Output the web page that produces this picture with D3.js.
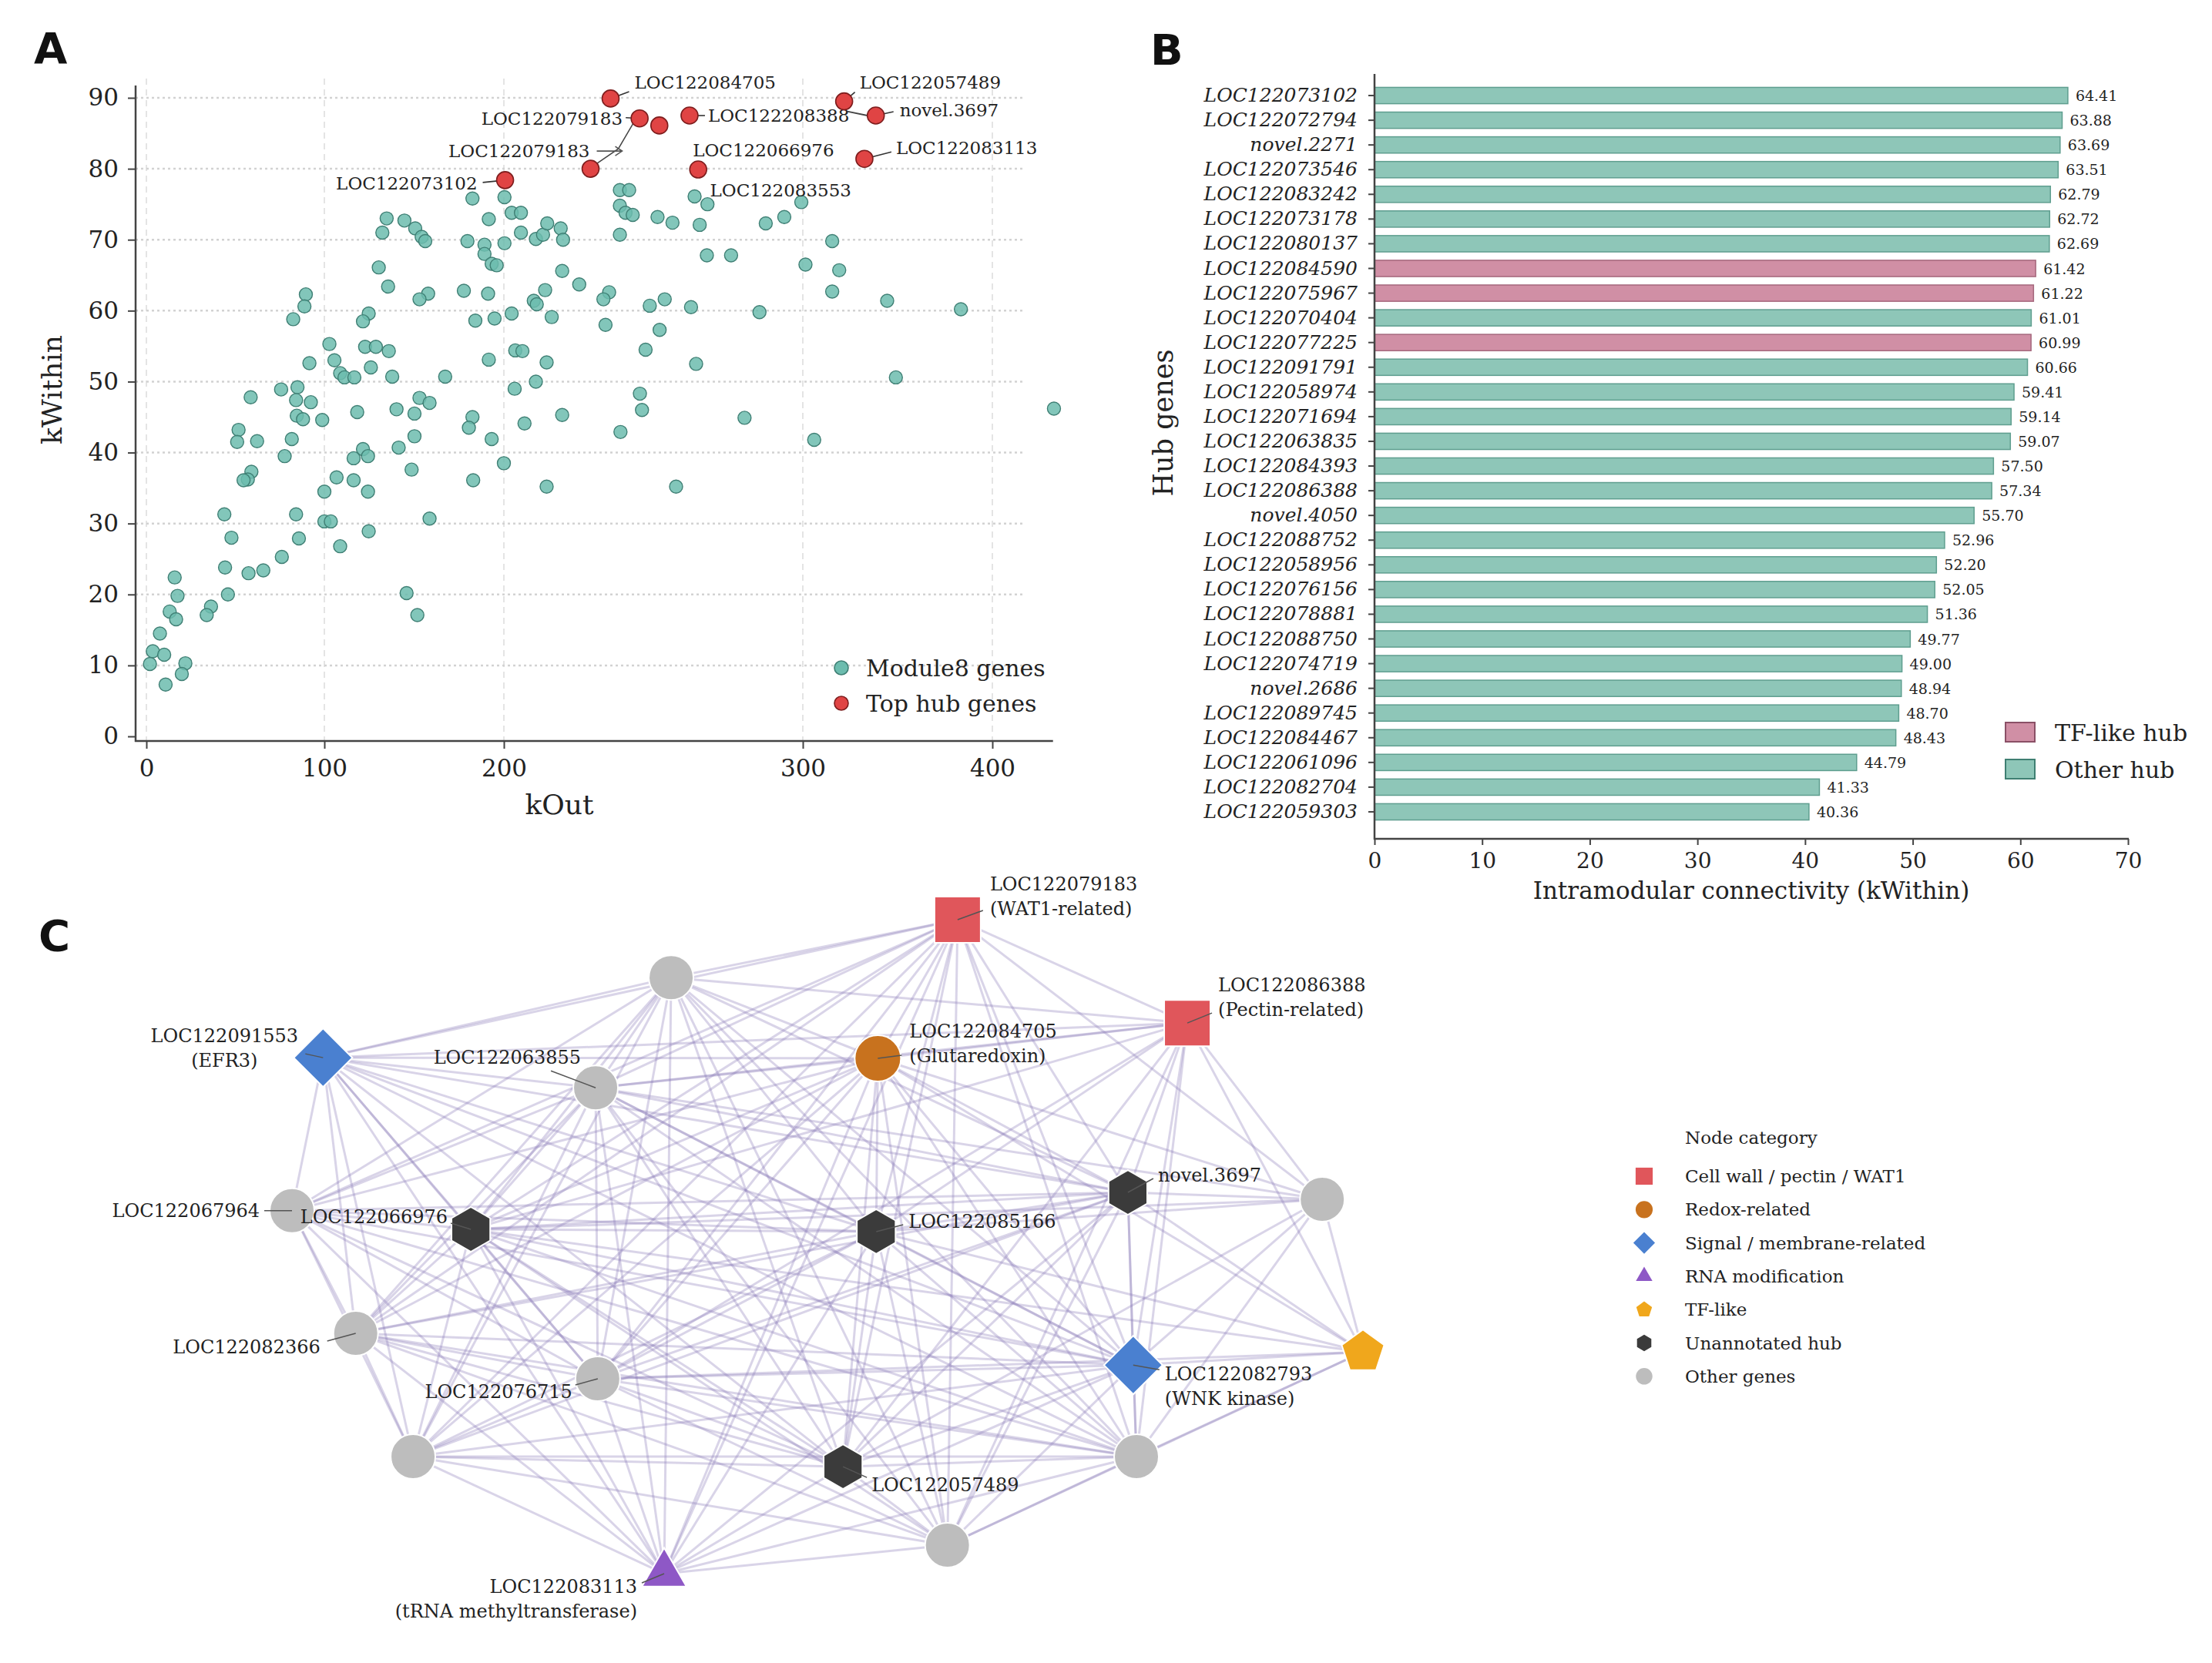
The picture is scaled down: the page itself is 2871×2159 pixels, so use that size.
<!DOCTYPE html>
<html>
<head>
<meta charset="utf-8">
<script src="https://cdn.jsdelivr.net/npm/d3@7"></script>
<style>
  body { margin: 0; background: #fff; }
  text { font-family: "DejaVu Serif", serif; fill: #222; }
</style>
</head>
<body>
<script>
// ---------- panel A data: kOut vs kWithin ----------
var module8 = [
  [182.5,75.8],[200.2,76.0],[238.8,77.0],[241.9,77.0],[263.8,76.1],[268.1,75.0],[299.5,75.3],[238.8,74.8],
  [240.7,73.8],[243.1,73.5],[191.6,72.9],[202.6,73.8],[205.7,73.8],[134.7,73.0],[144.6,72.7],[150.6,71.6],
  [132.3,71.0],[154.2,70.4],[156.2,69.8],[179.7,69.8],[189.2,69.3],[200.2,69.5],[205.7,71.0],[210.7,70.1],
  [213.1,70.7],[214.5,72.3],[219.0,71.6],[219.8,70.0],[238.8,70.7],[251.4,73.2],[256.4,72.4],[265.5,72.1],
  [287.6,72.3],[293.8,73.2],[315.5,69.8],[267.9,67.8],[276.0,67.8],[189.2,68.0],[193.2,66.6],[196.0,66.4],
  [130.3,66.1],[219.5,65.6],[301.4,66.5],[319.2,65.7],[135.5,63.4],[225.2,63.7],[177.7,62.8],[191.2,62.4],
  [157.8,62.4],[153.0,61.6],[213.8,62.9],[235.2,62.6],[233.3,61.6],[210.0,61.4],[211.0,60.9],[253.8,61.6],
  [248.8,60.7],[262.6,60.5],[285.5,59.8],[315.5,62.7],[344.5,61.4],[383.4,60.2],[89.6,62.3],[88.8,60.6],
  [82.5,58.8],[124.7,59.6],[121.5,58.5],[184.1,58.6],[194.8,58.9],[202.6,59.6],[216.0,59.1],[234.0,58.0],
  [252.1,57.3],[102.8,55.3],[105.6,53.0],[91.6,52.6],[122.7,54.9],[128.7,54.9],[135.9,54.3],[125.9,52.0],
  [108.8,51.2],[111.2,50.6],[116.7,50.6],[137.8,50.7],[167.3,50.7],[191.6,53.1],[203.8,54.4],[206.2,54.3],
  [214.3,52.7],[247.4,54.5],[264.3,52.5],[349.1,50.6],[210.7,50.0],
  [58.6,47.8],[75.7,48.9],[84.9,49.2],[203.6,49.0],[84.1,47.4],[92.4,47.1],[84.5,45.2],[88.0,44.7],
  [98.8,44.6],[118.3,45.7],[140.2,46.1],[150.2,45.5],[153.0,47.7],[158.6,47.0],[182.5,45.0],[180.5,43.5],
  [206.9,44.1],[219.5,45.3],[245.5,48.3],[246.2,46.0],[280.5,44.9],[432.5,46.2],[51.8,43.2],[51.0,41.5],
  [62.2,41.6],[239.0,42.9],[150.2,42.3],[81.7,41.9],[77.7,39.5],[141.4,40.7],[121.5,40.5],[124.3,39.5],
  [116.3,39.2],[193.2,41.9],[200.0,38.5],[59.0,37.3],[57.0,36.2],[54.6,36.1],[106.8,36.5],[116.3,36.1],
  [100.0,34.5],[124.3,34.5],[148.6,37.6],[182.9,36.1],[214.3,35.2],[257.6,35.2],[43.8,31.3],[47.8,28.0],
  [84.1,31.3],[100.0,30.3],[103.6,30.3],[85.7,27.9],[108.8,26.8],[124.7,28.9],[158.6,30.7],[76.1,25.3],
  [44.2,23.8],[57.4,23.0],[65.7,23.4],[45.8,20.0],[15.9,22.4],[17.5,19.8],[13.1,17.6],[16.7,16.5],
  [36.3,18.3],[33.9,17.1],[145.8,20.2],[151.8,17.1],[7.6,14.5],[3.6,12.0],[10.0,11.5],[2.0,10.2],
  [21.9,10.3],[19.9,8.8],[10.8,7.3],[306.0,41.8]
];
var hubNames   = ["LOC122084705","LOC122079183","","LOC122208388","LOC122057489","novel.3697","LOC122083113","LOC122079183","LOC122066976","LOC122073102"];
var hubKOut    = [235.7, 245.4, 252.0, 262.1, 321.8, 338.5, 332.5, 229.0, 265.0, 200.4];
var hubKWithin = [89.9, 87.1, 86.1, 87.5, 89.5, 87.5, 81.4, 80.0, 79.9, 78.4];
var extraLabel = { name: "LOC122083553", kOut: 263.8, kWithin: 76.1 };
var kOutTicks = [0, 100, 200, 300, 400];
var kWithinTicks = [0, 10, 20, 30, 40, 50, 60, 70, 80, 90];

// ---------- panel B data: hub genes by kWithin ----------
var hubGenes = ["LOC122073102","LOC122072794","novel.2271","LOC122073546","LOC122083242","LOC122073178",
  "LOC122080137","LOC122084590","LOC122075967","LOC122070404","LOC122077225","LOC122091791","LOC122058974",
  "LOC122071694","LOC122063835","LOC122084393","LOC122086388","novel.4050","LOC122088752","LOC122058956",
  "LOC122076156","LOC122078881","LOC122088750","LOC122074719","novel.2686","LOC122089745","LOC122084467",
  "LOC122061096","LOC122082704","LOC122059303"];
var hubKW = [64.41,63.88,63.69,63.51,62.79,62.72,62.69,61.42,61.22,61.01,60.99,60.66,59.41,59.14,59.07,
  57.50,57.34,55.70,52.96,52.20,52.05,51.36,49.77,49.00,48.94,48.70,48.43,44.79,41.33,40.36];
var tfLike = ["LOC122084590","LOC122075967","LOC122077225"];
var kwTicks = [0, 10, 20, 30, 40, 50, 60, 70];

// ---------- panel C data: network ----------
var nodeIds = ["LOC122079183","","LOC122086388","LOC122084705","LOC122091553","LOC122063855","LOC122067964",
  "LOC122066976","LOC122085166","novel.3697","","LOC122082366","LOC122076715","LOC122082793","","","LOC122057489",
  "","","LOC122083113"];
var nodeNotes = ["(WAT1-related)","","(Pectin-related)","(Glutaredoxin)","(EFR3)","","","","","","","","",
  "(WNK kinase)","","","","","","(tRNA methyltransferase)"];
var nodeCat = ["wall","other","wall","redox","signal","other","other","hub","hub","hub","other","other","other",
  "signal","tf","other","hub","other","other","rna"];
var nodeX = [0.243,-0.292,0.672,0.094,-0.942,-0.433,-1.000,-0.666,0.091,0.561,0.924,-0.881,-0.429,0.571,1.000,
  -0.774,0.029,0.577,0.224,-0.305];
var nodeY = [1.000,0.823,0.684,0.576,0.578,0.486,0.110,0.053,0.046,0.166,0.145,-0.265,-0.404,-0.362,-0.322,
  -0.642,-0.673,-0.642,-0.913,-1.000];
var edgeRows = [
  "0:1 2 3 4 5 6 7 8 9 10 11 12 13 15 16 17 18 19",
  "1:2 3 4 5 6 7 8 9 11 12 13 15 16 17 18 19",
  "2:3 4 5 7 8 9 10 12 13 14 16 17 18",
  "3:4 5 6 7 8 9 10 11 12 13 14 15 16 17 18 19",
  "4:5 6 7 8 9 11 12 13 15 16 17 19",
  "5:6 7 8 9 10 11 12 13 15 16 17 18 19",
  "6:7 8 9 11 12 13 15 16 17 19",
  "7:8 9 10 11 12 13 14 15 16 17 18 19",
  "8:9 10 11 12 13 14 15 16 17 18 19",
  "9:10 11 12 13 14 15 16 17 18 19",
  "10:13 14 16 17",
  "11:12 13 15 16 17 18 19",
  "12:13 14 15 16 17 18 19",
  "13:14 15 16 17 18 19",
  "14:17 18",
  "15:16 17 18 19",
  "16:17 18 19",
  "17:18 19",
  "18:19"
];
var categories = ["wall","redox","signal","rna","tf","hub","other"];
var categoryLabels = ["Cell wall / pectin / WAT1","Redox-related","Signal / membrane-related","RNA modification",
  "TF-like","Unannotated hub","Other genes"];

// ---------- drawing ----------
var svg = d3.select("body").append("svg")
  .attr("width", 2871)
  .attr("height", 2159);

function panelLetter(t, x, y) {
  svg.append("text").attr("x", x).attr("y", y).text(t)
    .style("font-family", "DejaVu Sans, sans-serif")
    .attr("font-weight", "bold").attr("font-size", 56).style("fill", "#111");
}
panelLetter("A", 44, 82);
panelLetter("B", 1493, 84);
panelLetter("C", 50, 1234);

// ===== Panel A =====
var xA = d3.scaleLinear().domain(kOutTicks).range([190, 421, 654, 1042, 1288]);
var yA = d3.scaleLinear().domain([0, 90]).range([956, 127]);
var gA = svg.append("g");

gA.selectAll(".vgrid").data(kOutTicks).enter().append("line")
  .attr("x1", function(d) { return xA(d); }).attr("x2", function(d) { return xA(d); })
  .attr("y1", 102).attr("y2", 962)
  .attr("stroke", "#dcdcdc").attr("stroke-width", 1.5).attr("stroke-dasharray", "8,6");
gA.selectAll(".hgrid").data(kWithinTicks.slice(1)).enter().append("line")
  .attr("x1", 176).attr("x2", 1328)
  .attr("y1", function(d) { return yA(d); }).attr("y2", function(d) { return yA(d); })
  .attr("stroke", "#d2d2d2").attr("stroke-width", 2.5).attr("stroke-dasharray", "3,4");

var axA_y = gA.append("g").attr("transform", "translate(176,0)")
  .call(d3.axisLeft(yA).tickValues(kWithinTicks).tickSize(10).tickPadding(12).tickSizeOuter(0));
var axA_x = gA.append("g").attr("transform", "translate(0,962)")
  .call(d3.axisBottom(xA).tickValues(kOutTicks).tickSize(10).tickPadding(14).tickSizeOuter(0));
[axA_y, axA_x].forEach(function(ax) {
  ax.select(".domain").remove();
  ax.selectAll("line").attr("stroke", "#444").attr("stroke-width", 2);
  ax.selectAll("text").attr("font-size", 31).style("font-family", "DejaVu Serif, serif").style("fill", "#222");
});
gA.append("line").attr("x1", 176).attr("x2", 176).attr("y1", 111).attr("y2", 963)
  .attr("stroke", "#444").attr("stroke-width", 2.5);
gA.append("line").attr("x1", 175).attr("x2", xA(432)).attr("y1", 962).attr("y2", 962)
  .attr("stroke", "#444").attr("stroke-width", 2.5);

gA.append("text").attr("x", 726).attr("y", 1057).attr("text-anchor", "middle")
  .attr("font-size", 36).text("kOut");
gA.append("text").attr("transform", "translate(80,506) rotate(-90)").attr("text-anchor", "middle")
  .attr("font-size", 36).text("kWithin");

gA.selectAll(".m8").data(module8).enter().append("circle")
  .attr("cx", function(d) { return xA(d[0]); })
  .attr("cy", function(d) { return yA(d[1]); })
  .attr("r", 8.5)
  .attr("fill", "#6cbcae").attr("fill-opacity", 0.85)
  .attr("stroke", "#3f7f74").attr("stroke-width", 1.4);

var hubs = hubNames.map(function(n, i) { return { name: n, kOut: hubKOut[i], kWithin: hubKWithin[i] }; });

// annotation placement (pixel offsets from each point)
var hubLabelPos = [
  { dx: 31, dy: -21, anchor: "start", lead: [24, -9] },
  { dx: -22, dy: 0, anchor: "end", lead: [-18, -1] },
  null,
  { dx: 24, dy: 0, anchor: "start", lead: [20, 0] },
  { dx: 20, dy: -25, anchor: "start", lead: [14, -12] },
  { dx: 31, dy: -7, anchor: "start", lead: [23, -5] },
  { dx: 41, dy: -14, anchor: "start", lead: [35, -9] },
  { dx: -1, dy: -23, anchor: "end", arrow: true },
  { dx: -7, dy: -25, anchor: "start" },
  { dx: -36, dy: 4, anchor: "end", lead: [-29, 3] }
];

// odd connector lines visible in the reference
var p8 = hubs[7], p2 = hubs[1], p5 = hubs[4], p6 = hubs[5];
gA.append("path")
  .attr("d", d3.line()([[xA(p8.kOut) + 4, yA(p8.kWithin) - 4],
                         [xA(p8.kOut) + 36, yA(p8.kWithin) - 26],
                         [xA(p2.kOut) - 8, yA(p2.kWithin) + 6]]))
  .attr("fill", "none").attr("stroke", "#444").attr("stroke-width", 1.5);
gA.append("line")
  .attr("x1", xA(p5.kOut) + 4).attr("y1", yA(p5.kWithin) + 13)
  .attr("x2", xA(p6.kOut) - 6).attr("y2", yA(p6.kWithin) + 1)
  .attr("stroke", "#444").attr("stroke-width", 2);

hubs.forEach(function(h, i) {
  var pos = hubLabelPos[i];
  if (!pos) return;
  var px = xA(h.kOut), py = yA(h.kWithin);
  if (pos.lead) {
    gA.append("line").attr("x1", px).attr("y1", py)
      .attr("x2", px + pos.lead[0]).attr("y2", py + pos.lead[1])
      .attr("stroke", "#333").attr("stroke-width", 1.6);
  }
  if (pos.arrow) {
    var ax = px + pos.dx + 9, ay = py + pos.dy;
    gA.append("path")
      .attr("d", "M" + ax + "," + ay + "H" + (ax + 32) + "M" + (ax + 24) + "," + (ay - 6) +
                 "L" + (ax + 33) + "," + ay + "L" + (ax + 24) + "," + (ay + 6))
      .attr("fill", "none").attr("stroke", "#555").attr("stroke-width", 1.6);
  }
  gA.append("text").attr("x", px + pos.dx).attr("y", py + pos.dy)
    .attr("text-anchor", pos.anchor).attr("dominant-baseline", "central")
    .attr("font-size", 23).text(h.name);
});

gA.selectAll(".hub").data(hubs).enter().append("circle")
  .attr("cx", function(d) { return xA(d.kOut); })
  .attr("cy", function(d) { return yA(d.kWithin); })
  .attr("r", 11)
  .attr("fill", "#e04444")
  .attr("stroke", "#7d1d1d").attr("stroke-width", 1.6);

gA.append("text").attr("x", xA(extraLabel.kOut) + 20).attr("y", yA(extraLabel.kWithin) - 8)
  .attr("dominant-baseline", "central").attr("font-size", 23).text(extraLabel.name);

// legend A
var legA = [["Module8 genes", "#6cbcae", "#3f7f74"], ["Top hub genes", "#e04444", "#7d1d1d"]];
legA.forEach(function(l, i) {
  gA.append("circle").attr("cx", 1092).attr("cy", 867 + i * 46).attr("r", 9)
    .attr("fill", l[1]).attr("stroke", l[2]).attr("stroke-width", 1.6);
  gA.append("text").attr("x", 1124).attr("y", 867 + i * 46).attr("dominant-baseline", "central")
    .attr("font-size", 30).text(l[0]);
});

// ===== Panel B =====
var xB = d3.scaleLinear().domain([0, 70]).range([1784, 2762]);
var yB = d3.scaleBand().domain(hubGenes).range([108, 1070]).paddingInner(0.34).paddingOuter(0.17);
var gB = svg.append("g");
var barData = hubGenes.map(function(g, i) { return { gene: g, kw: hubKW[i], tf: tfLike.indexOf(g) >= 0 }; });

gB.selectAll(".bar").data(barData).enter().append("rect")
  .attr("x", xB(0))
  .attr("y", function(d) { return yB(d.gene); })
  .attr("width", function(d) { return xB(d.kw) - xB(0); })
  .attr("height", yB.bandwidth())
  .attr("fill", function(d) { return d.tf ? "#d08fa5" : "#8ec6b8"; })
  .attr("stroke", function(d) { return d.tf ? "#a5687d" : "#5f9e8f"; })
  .attr("stroke-width", 1.5);

gB.selectAll(".val").data(barData).enter().append("text")
  .attr("x", function(d) { return xB(d.kw) + 10; })
  .attr("y", function(d) { return yB(d.gene) + yB.bandwidth() / 2; })
  .attr("dominant-baseline", "central")
  .attr("font-size", 19)
  .text(function(d) { return d.kw.toFixed(2); });

var axB_y = gB.append("g").attr("transform", "translate(1784,0)")
  .call(d3.axisLeft(yB).tickSize(8).tickPadding(14).tickSizeOuter(0));
var axB_x = gB.append("g").attr("transform", "translate(0,1089)")
  .call(d3.axisBottom(xB).tickValues(kwTicks).tickSize(8).tickPadding(10).tickSizeOuter(0));
[axB_y, axB_x].forEach(function(ax) {
  ax.select(".domain").remove();
  ax.selectAll("line").attr("stroke", "#444").attr("stroke-width", 2);
  ax.selectAll("text").style("font-family", "DejaVu Serif, serif").style("fill", "#222");
});
axB_y.selectAll("text").attr("font-size", 25).attr("font-style", "italic");
axB_x.selectAll("text").attr("font-size", 28);
gB.append("line").attr("x1", 1784).attr("x2", 1784).attr("y1", 96).attr("y2", 1090)
  .attr("stroke", "#444").attr("stroke-width", 2.5);
gB.append("line").attr("x1", 1783).attr("x2", 2763).attr("y1", 1089).attr("y2", 1089)
  .attr("stroke", "#444").attr("stroke-width", 2.5);

gB.append("text").attr("x", 2273).attr("y", 1167).attr("text-anchor", "middle")
  .attr("font-size", 31).text("Intramodular connectivity (kWithin)");
gB.append("text").attr("transform", "translate(1522,549) rotate(-90)").attr("text-anchor", "middle")
  .attr("font-size", 35).text("Hub genes");

var legB = [["TF-like hub", "#d08fa5", "#8a5066"], ["Other hub", "#8ec6b8", "#3f7f72"]];
legB.forEach(function(l, i) {
  gB.append("rect").attr("x", 2603).attr("y", 938 + i * 48).attr("width", 38).attr("height", 25)
    .attr("fill", l[1]).attr("stroke", l[2]).attr("stroke-width", 2);
  gB.append("text").attr("x", 2667).attr("y", 951 + i * 48).attr("dominant-baseline", "central")
    .attr("font-size", 30).text(l[0]);
});

// ===== Panel C =====
var xC = d3.scaleLinear().domain([-1, 1]).range([379, 1769]);
var yC = d3.scaleLinear().domain([1, -1]).range([1194, 2043]);
var gC = svg.append("g");

var nodes = nodeIds.map(function(id, i) {
  return { id: id, note: nodeNotes[i], cat: nodeCat[i], x: xC(nodeX[i]), y: yC(nodeY[i]) };
});
var edges = [];
edgeRows.forEach(function(row) {
  var parts = row.split(":");
  var s = +parts[0];
  parts[1].split(" ").forEach(function(t) { edges.push([s, +t]); });
});

var catColor = { wall: "#e0565b", redox: "#c8721e", signal: "#4a80d0", rna: "#8e58c6",
                 tf: "#f0a71c", hub: "#3b3b3b", other: "#bdbdbd" };

function polygon(n, r) {
  var p = d3.path();
  for (var k = 0; k < n; k++) {
    var a = -Math.PI / 2 + k * 2 * Math.PI / n;
    if (k === 0) p.moveTo(r * Math.cos(a), r * Math.sin(a));
    else p.lineTo(r * Math.cos(a), r * Math.sin(a));
  }
  p.closePath();
  return p.toString();
}
function shapePath(cat, s) {
  if (cat === "wall") return d3.symbol(d3.symbolSquare, 3600 * s * s)();
  if (cat === "signal") return d3.symbol(d3.symbolSquare, 2900 * s * s)();
  if (cat === "rna") return d3.symbol(d3.symbolTriangle, 1450 * s * s)();
  if (cat === "tf") return polygon(5, 29 * s);
  if (cat === "hub") return polygon(6, 29 * s);
  if (cat === "redox") return d3.symbol(d3.symbolCircle, 2830 * s * s)();
  return d3.symbol(d3.symbolCircle, 2640 * s * s)();
}

gC.selectAll(".edge").data(edges).enter().append("line")
  .attr("x1", function(d) { return nodes[d[0]].x; })
  .attr("y1", function(d) { return nodes[d[0]].y; })
  .attr("x2", function(d) { return nodes[d[1]].x; })
  .attr("y2", function(d) { return nodes[d[1]].y; })
  .attr("stroke", "#8a78b8").attr("stroke-opacity", 0.32).attr("stroke-width", 3);

gC.selectAll(".node").data(nodes).enter().append("path")
  .attr("d", function(d) { return shapePath(d.cat, 1); })
  .attr("transform", function(d) {
    return "translate(" + d.x + "," + d.y + ")" + (d.cat === "signal" ? " rotate(45)" : "");
  })
  .attr("fill", function(d) { return catColor[d.cat]; })
  .attr("stroke", "#fff").attr("stroke-width", 2);

// label placement (pixel offsets from node centre)
var labelC = {
  0:  { dx: 42, dy: -46, anchor: "start", lead: [33, -12] },
  2:  { dx: 40, dy: -49, anchor: "start", lead: [32, -13] },
  3:  { dx: 41, dy: -35, anchor: "start", lead: [31, -4] },
  4:  { dx: -128, dy: -28, anchor: "middle", lead: [-23, -5] },
  5:  { dx: -19, dy: -39, anchor: "end", lead: [-58, -22] },
  6:  { dx: -42, dy: 0, anchor: "end", lead: [-36, 0] },
  7:  { dx: -30, dy: -16, anchor: "end", lead: [-26, -8] },
  8:  { dx: 42, dy: -13, anchor: "start", lead: [35, -9] },
  9:  { dx: 39, dy: -22, anchor: "start", lead: [33, -18] },
  11: { dx: -46, dy: 18, anchor: "end", lead: [-37, 10] },
  12: { dx: -33, dy: 17, anchor: "end", lead: [-29, 8] },
  13: { dx: 41, dy: 12, anchor: "start", lead: [34, 6] },
  16: { dx: 37, dy: 24, anchor: "start", lead: [31, 14] },
  19: { dx: -35, dy: 17, anchor: "end", lead: [-29, 12] }
};
nodes.forEach(function(n, i) {
  var pos = labelC[i];
  if (!pos) return;
  gC.append("line").attr("x1", n.x).attr("y1", n.y)
    .attr("x2", n.x + pos.lead[0]).attr("y2", n.y + pos.lead[1])
    .attr("stroke", "#555").attr("stroke-width", 1.5);
  gC.append("text").attr("x", n.x + pos.dx).attr("y", n.y + pos.dy)
    .attr("text-anchor", pos.anchor).attr("dominant-baseline", "central")
    .attr("font-size", 24).text(n.id);
  if (n.note) {
    gC.append("text").attr("x", n.x + pos.dx).attr("y", n.y + pos.dy + 32)
      .attr("text-anchor", pos.anchor).attr("dominant-baseline", "central")
      .attr("font-size", 24).text(n.note);
  }
});

// legend C
gC.append("text").attr("x", 2187).attr("y", 1477).attr("dominant-baseline", "central")
  .attr("font-size", 23).text("Node category");
categories.forEach(function(c, i) {
  var cy = 1527 + i * 43.3;
  gC.append("path").attr("d", shapePath(c, 0.37))
    .attr("transform", "translate(2134," + cy + ")" + (c === "signal" ? " rotate(45)" : ""))
    .attr("fill", catColor[c]);
  gC.append("text").attr("x", 2187).attr("y", cy).attr("dominant-baseline", "central")
    .attr("font-size", 23).text(categoryLabels[i]);
});
</script>
</body>
</html>
